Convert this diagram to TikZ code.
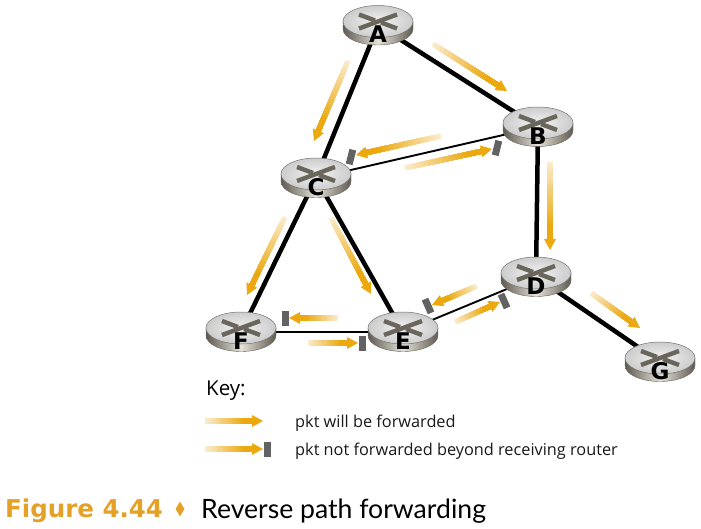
\documentclass[tikz,border=0pt]{standalone}
\usepackage{fontspec}
\setmainfont{Open Sans}
\newfontfamily\capfont{Lato}
\newfontfamily\figfont{DejaVu Sans}
\usetikzlibrary{calc,shapes.geometric}
\definecolor{arrowor}{HTML}{EBA90F}
\definecolor{arrowpale}{HTML}{FAEBCB}
\definecolor{stopgray}{HTML}{626164}
\definecolor{crossgray}{HTML}{6A665C}
\definecolor{figor}{HTML}{E5A125}
\definecolor{sidedark}{HTML}{5E5A4E}
\definecolor{sidelight}{HTML}{E6E2D8}
\tikzset{
  x=1pt,y=-1pt,
  anchorpt/.style={ellipse,minimum width=70pt,minimum height=36pt,inner sep=0pt},
  thicklink/.style={line width=4.5pt,black},
  thinlink/.style={line width=1.9pt,black},
  stopbar/.style={fill=stopgray,draw=none,rectangle,minimum width=7pt,minimum height=15pt,inner sep=0pt},
  routerlabel/.style={font=\fontsize{23}{23}\selectfont\figfont\bfseries,text=black,inner sep=0pt},
  keytext/.style={font=\fontsize{16.3}{18}\selectfont,anchor=west,inner sep=0pt,text=black!90},
}
% tail x,y  tip x,y : shaft painted in overlapping strips so that the fade follows the arrow
\newcommand{\farrow}[4]{%
  \pgfmathsetmacro{\fang}{atan2(-((#4)-(#2)),(#3)-(#1))}%
  \pgfmathsetmacro{\flen}{veclen((#3)-(#1),(#4)-(#2))}%
  \begin{scope}[shift={(#1,#2)},rotate=\fang]
    \foreach \stripidx in {0,...,24}{%
      \pgfmathsetmacro{\stripstart}{(\flen-10)*\stripidx/25}%
      \pgfmathsetmacro{\strippct}{min(100,\stripidx*100/20)}%
      \fill[arrowor!\strippct!arrowpale] (\stripstart,-2.6) rectangle (\flen-10,2.6);
    }
    \fill[arrowor] (\flen-11,-6) -- (\flen,0) -- (\flen-11,6) -- cycle;
  \end{scope}}
\newcommand{\routerbody}[2]{% name, letter
  \begin{scope}[shift={(#1.center)}]
    \shade[left color=sidedark,right color=sidedark,middle color=sidelight,draw=black!60,line width=.4pt]
      (-35,-4) -- (-35,3.5) arc[start angle=180,end angle=360,x radius=35,y radius=-16] -- (35,-4) -- cycle;
    \shade[inner color=white!90!gray,outer color=black!20,draw=black!55,line width=.5pt]
      (0,-4) ellipse[x radius=35,y radius=16];
    \draw[crossgray,line width=4.4pt] (-19,-11) -- (-3,-5) (3,-3) -- (19,3);
    \draw[crossgray,line width=4.4pt] (19,-11) -- (-19,3);
    \node[routerlabel] (#1-label) at (0,9) {#2};
  \end{scope}}
\begin{document}
\begin{tikzpicture}
\useasboundingbox (0,0) rectangle (701,529);
\node[anchorpt] (A) at (378,25.5) {};
\node[anchorpt] (B) at (538,127) {};
\node[anchorpt] (C) at (316,178) {};
\node[anchorpt] (D) at (536,277) {};
\node[anchorpt] (E) at (403,332) {};
\node[anchorpt] (F) at (241,332) {};
\node[anchorpt] (G) at (660,362) {};
% links
\draw[thicklink] (A) -- (B);
\draw[thicklink] (A) -- (C);
\draw[thicklink] (B) -- (D);
\draw[thicklink] (C) -- (F);
\draw[thicklink] (C) -- (E);
\draw[thicklink] (D) -- (G);
\draw[thinlink] (C) -- (B);
\draw[thinlink] (F) -- (E);
\draw[thinlink] (E) -- (D);
% routers
\routerbody{A}{A}
\routerbody{B}{B}
\routerbody{C}{C}
\routerbody{D}{D}
\routerbody{E}{E}
\routerbody{F}{F}
\routerbody{G}{G}
% forwarding arrows
\farrow{433}{44}{507}{91}
\farrow{348}{61}{314}{141}
\farrow{441}{136}{356}{155}
\farrow{405}{168}{492}{149}
\farrow{550}{162}{550}{250}
\farrow{285}{217}{247}{295}
\farrow{331}{218}{371}{294}
\farrow{338}{318}{289}{318}
\farrow{308}{343}{358}{343}
\farrow{477}{286}{432}{305}
\farrow{455}{322}{500}{302}
\farrow{591}{293}{640}{328}
% stop bars
\node[stopbar,rotate=-14] (s1) at (351,157) {};
\node[stopbar,rotate=-14] (s2) at (497,148) {};
\node[stopbar] (s3) at (285,318) {};
\node[stopbar] (s4) at (362,343) {};
\node[stopbar,rotate=24] (s5) at (428,306) {};
\node[stopbar,rotate=24] (s6) at (504,301) {};
% key
\node[font=\fontsize{20.5}{22}\selectfont,anchor=west,inner sep=0pt] (keytitle) at (206,391) {Key:};
\farrow{205}{421}{263}{421}
\farrow{205}{449}{263}{449}
\node[stopbar] (keystop) at (267,449) {};
\node[keytext] (k1) at (295,423) {pkt will be forwarded};
\node[keytext] (k2) at (295,451) {pkt not forwarded beyond receiving router};
% caption
\node[font=\fontsize{24.5}{26}\selectfont\figfont\bfseries,text=figor,anchor=west,inner sep=0pt] (figlabel) at (5,511) {Figure 4.44};
\node[fill=figor,diamond,shape aspect=.6,minimum width=9pt,minimum height=15pt,inner sep=0pt] (figdiamond) at (180,509) {};
\node[font=\fontsize{26.6}{30}\selectfont\capfont,anchor=west,inner sep=0pt,text=black] (captext) at (201,511) {Reverse path forwarding};
\end{tikzpicture}
\end{document}
